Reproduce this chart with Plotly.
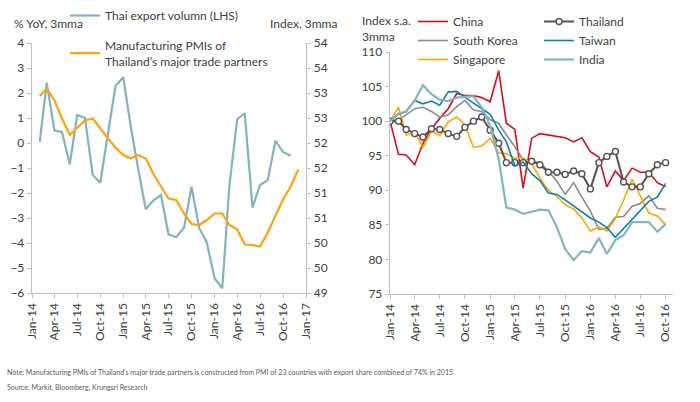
import plotly.graph_objects as go
import pandas as pd

# ---------------- Left chart data ----------------
left_dates = pd.date_range("2014-02-01", periods=35, freq="MS")
thai_export = [0.05, 2.4, 0.5, 0.44, -0.86, 1.12, 1.0, -1.28, -1.59, 0.35, 2.28, 2.63,
               0.6, -1.0, -2.65, -2.3, -2.08, -3.66, -3.77, -3.39, -1.75, -3.41, -3.97,
               -5.41, -5.81, -1.65, 0.95, 1.19, -2.59, -1.68, -1.48, 0.09, -0.36, -0.51]
pmi_partners = [52.94, 53.09, 52.85, 52.49, 52.16, 52.31, 52.45, 52.49, 52.29, 52.09, 51.91,
                51.76, 51.69, 51.76, 51.69, 51.39, 51.13, 50.89, 50.86, 50.59, 50.38, 50.36,
                50.46, 50.59, 50.59, 50.36, 50.27, 49.97, 49.96, 49.93, 50.21, 50.53, 50.87,
                51.13, 51.47]

# ---------------- Right chart data ----------------
right_dates = pd.date_range("2014-01-01", periods=34, freq="MS")
china = [100, 95.2, 95.1, 93.7, 96.8, 98.9, 100.4, 101.8, 104.0, 103.7, 103.7, 103.4, 102.8,
         107.3, 99.7, 98.8, 90.3, 97.5, 98.2, 98.0, 97.8, 97.6, 97.0, 97.6, 95.6, 94.8, 90.5,
         92.8, 91.4, 93.2, 92.6, 92.6, 91.1, 90.5]
thailand = [100, 100, 98.8, 98.2, 97.7, 98.9, 98.8, 98.2, 97.8, 99.1, 100, 100.6, 98.7, 96.8,
            94.0, 94.0, 94.0, 94.2, 93.7, 92.6, 92.6, 92.3, 92.8, 92.4, 90.2, 94.0, 94.9, 95.6,
            91.2, 90.5, 90.5, 92.4, 93.7, 94.0]
south_korea = [100, 100.2, 100.9, 101.8, 102.0, 101.4, 100.6, 100.9, 102.1, 103.0, 101.6, 101.4,
               100.2, 99.7, 98.0, 96.3, 94.4, 94.2, 94.0, 92.8, 91.3, 89.4, 91.1, 89.0, 87.0,
               84.3, 84.5, 86.1, 86.2, 87.7, 88.1, 89.2, 87.4, 87.2]
taiwan = [100, 101.0, 101.4, 103.0, 102.5, 102.9, 102.3, 104.2, 104.3, 103.4, 102.6, 101.8,
          101.0, 98.7, 97.0, 93.5, 94.1, 92.4, 91.4, 89.6, 89.4, 88.6, 87.7, 86.9, 86.0, 85.4,
          84.6, 83.2, 84.5, 85.9, 87.2, 88.4, 89.0, 91.0]
singapore = [100, 102.0, 98.0, 98.4, 96.2, 98.6, 97.9, 99.9, 100.6, 99.5, 96.2, 96.4, 97.5,
             95.4, 95.3, 94.6, 94.7, 93.8, 91.8, 90.0, 89.1, 87.9, 87.3, 86.0, 84.1, 84.7, 84.1,
             85.9, 88.6, 91.6, 89.2, 86.7, 86.3, 85.0]
india = [100, 101.1, 101.4, 103.0, 105.2, 103.9, 103.1, 102.9, 103.4, 103.5, 103.6, 102.0, 99.3,
         94.5, 87.5, 87.2, 86.6, 86.9, 87.2, 87.1, 84.7, 81.5, 79.9, 81.2, 81.0, 83.1, 80.8,
         82.8, 83.5, 85.4, 85.4, 85.4, 84.0, 85.1]

# tick labels
left_ticks = [-6, -5, -4, -3, -2, -1, 0, 1, 2, 3, 4]
pmi_ticks = [49, 49.5, 50, 50.5, 51, 51.5, 52, 52.5, 53, 53.5, 54]
pmi_ticktext = ["49", "50", "50", "51", "51", "52", "52", "53", "53", "54", "54"]
left_xticks = pd.date_range("2014-01-01", "2017-01-01", freq="3MS")
right_xticks = pd.date_range("2014-01-01", "2016-10-01", freq="3MS")
right_yticks = [75, 80, 85, 90, 95, 100, 105, 110]

W, H = 700, 402
FONT = "Lato"
TXT = "#404040"
AX = "#BFBFBF"

def px_x(p):
    return p / W

def px_y(p):
    return 1 - p / H

fig = go.Figure()

fig.add_trace(go.Scatter(x=left_dates[:len(thai_export)], y=thai_export, mode="lines",
                         name="Thai export volumn (LHS)", line=dict(color="#82B3BE", width=2.2),
                         xaxis="x", yaxis="y", legend="legend", showlegend=True))
fig.add_trace(go.Scatter(x=left_dates, y=pmi_partners, mode="lines",
                         name="Manufacturing PMIs of<br>Thailand\u2019s major trade partners",
                         line=dict(color="#FFA20F", width=2.2),
                         xaxis="x", yaxis="y2", legend="legend2", showlegend=True))

fig.add_trace(go.Scatter(x=right_dates, y=china, mode="lines", name="China",
                         line=dict(color="#D2111B", width=1.6), xaxis="x2", yaxis="y3",
                         legend="legend3", showlegend=True))
fig.add_trace(go.Scatter(x=right_dates, y=south_korea, mode="lines", name="South Korea",
                         line=dict(color="#8C8C8C", width=1.6), xaxis="x2", yaxis="y3",
                         legend="legend3", showlegend=True))
fig.add_trace(go.Scatter(x=right_dates, y=singapore, mode="lines", name="Singapore",
                         line=dict(color="#FFA500", width=1.6), xaxis="x2", yaxis="y3",
                         legend="legend3", showlegend=True))
fig.add_trace(go.Scatter(x=right_dates, y=thailand, mode="lines+markers", name="Thailand",
                         line=dict(color="#595150", width=2),
                         marker=dict(symbol="circle", size=6, color="white",
                                     line=dict(color="#595150", width=1.4)),
                         xaxis="x2", yaxis="y3", legend="legend4", showlegend=True))
fig.add_trace(go.Scatter(x=right_dates, y=taiwan, mode="lines", name="Taiwan",
                         line=dict(color="#0F80B3", width=1.6), xaxis="x2", yaxis="y3",
                         legend="legend4", showlegend=True))
fig.add_trace(go.Scatter(x=right_dates, y=india, mode="lines", name="India",
                         line=dict(color="#82B5C1", width=2.2), xaxis="x2", yaxis="y3",
                         legend="legend4", showlegend=True))

axis_common = dict(showgrid=False, zeroline=False, showline=True, linecolor=AX, linewidth=1.3,
                   ticks="outside", tickcolor=AX, ticklen=4, automargin=False,
                   tickfont=dict(family=FONT, size=12, color=TXT))

fig.update_layout(
    width=W, height=H, margin=dict(l=0, r=0, t=0, b=0, pad=0, autoexpand=False),
    showlegend=True,
    paper_bgcolor="white", plot_bgcolor="white",
    font=dict(family=FONT, size=12, color=TXT),
    xaxis=dict(domain=[px_x(32), px_x(306)], anchor="y", type="date",
               range=["2014-01-01", "2017-01-01"], tickvals=list(left_xticks),
               tickformat="%b-%y", tickangle=-90, **axis_common),
    yaxis=dict(domain=[px_y(293), px_y(43)], anchor="x", range=[-6, 4],
               tickvals=left_ticks, **axis_common),
    yaxis2=dict(overlaying="y", side="right", anchor="x", range=[49, 54],
                tickvals=pmi_ticks, ticktext=pmi_ticktext, **axis_common),
    xaxis2=dict(domain=[px_x(390), px_x(673)], anchor="y3", type="date",
                range=["2014-01-01", "2016-10-28"], tickvals=list(right_xticks),
                tickformat="%b-%y", tickangle=-90, **axis_common),
    yaxis3=dict(domain=[px_y(294), px_y(52)], anchor="x2", range=[75, 110],
                tickvals=right_yticks, **axis_common),
)

leg_common = dict(bgcolor="rgba(0,0,0,0)", borderwidth=0, xanchor="left", yanchor="top",
                  font=dict(family=FONT, size=12, color=TXT), tracegroupgap=0,
                  itemclick=False, itemdoubleclick=False, visible=True)
fig.update_layout(
    legend=dict(x=px_x(65), y=px_y(1), **leg_common),
    legend2=dict(x=px_x(65), y=px_y(31), **leg_common),
    legend3=dict(x=px_x(413), y=px_y(7), **leg_common),
    legend4=dict(x=px_x(539), y=px_y(7), **leg_common),
)

annots = [
    dict(text="% YoY, 3mma", x=px_x(12), y=px_y(23)),
    dict(text="Index, 3mma", x=px_x(268), y=px_y(23)),
    dict(text="Index s.a.<br>3mma", x=px_x(360), y=px_y(28)),
]
for a in annots:
    fig.add_annotation(xref="paper", yref="paper", xanchor="left", yanchor="middle",
                       showarrow=False, align="left", text=a["text"], x=a["x"], y=a["y"],
                       font=dict(family=FONT, size=12, color=TXT))

notes = [
    ("Note: Manufacturing PMIs of Thailand\u2019s major trade partners is constructed from PMI of 23 countries with export share combined of 74% in 2015", 372),
    ("Source: Markit, Bloomberg, Krungsri Research", 387),
]
for txt, yp in notes:
    fig.add_annotation(xref="paper", yref="paper", xanchor="left", yanchor="middle",
                       showarrow=False, align="left", x=px_x(5), y=px_y(yp), text=txt,
                       font=dict(family=FONT, size=7, color="#595959"))

fig.write_html("out.html", post_script="document.body.style.margin='0px';",
               config={"displayModeBar": False, "staticPlot": True})
